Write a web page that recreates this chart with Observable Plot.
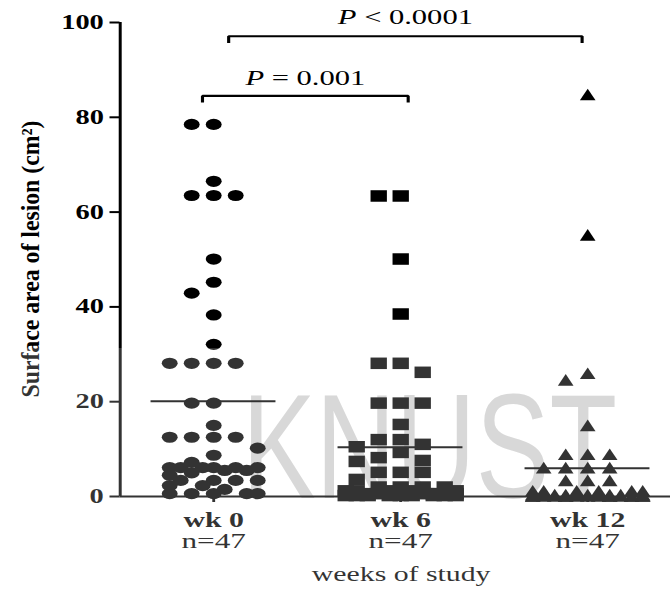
<!DOCTYPE html>
<html>
<head>
<meta charset="utf-8">
<script src="https://cdn.jsdelivr.net/npm/d3@7"></script>
<script src="https://cdn.jsdelivr.net/npm/@observablehq/plot@0.6"></script>
<style>
  html, body { margin: 0; padding: 0; background: #fff; }
  #chart svg { display: block; }
</style>
</head>
<body>
<div id="chart"></div>
<script>
// Surface area of lesion (cm²) for each participant at each visit
const categories = ["wk 0", "wk 6", "wk 12"];
const counts = ["n=47", "n=47", "n=47"];

const wk0 = [78.5, 78.5, 66.5, 63.5, 63.5, 63.5, 50.1, 45.2, 42.9, 38.3, 32.1,
  28.1, 28.1, 28.1, 28.1, 19.7, 19.7, 15.0, 12.5, 12.5, 12.5, 12.5, 10.2, 8.7, 7.2,
  6.1, 6.1, 6.1, 6.1, 6.1, 6.1, 5.5, 5.5, 5.0, 4.5, 3.4, 3.4, 3.4, 3.4, 2.3, 2.3,
  1.5, 0.6, 0.6, 0.6, 0.6, 0.6];
const wk6 = [63.4, 63.4, 50.1, 38.5, 28.1, 28.1, 26.2, 19.7, 19.7, 19.7, 15.2,
  12.0, 12.0, 11.0, 10.5, 9.3, 8.2, 7.6, 7.4, 5.1, 5.1, 5.1, 3.6,
  2.0, 2.0, 2.0, 2.0, 1.2, 1.2, 1.2, 1.2, 1.2, 0.6, 0.6, 0.6, 0.6, 0.6, 0.6,
  0.2, 0.2, 0.2, 0.2, 0.2, 0.2, 0.2, 0.2, 0.2];
const wk12 = [84.8, 55.2, 26.0, 24.6, 15.0, 8.9, 8.9, 8.9, 6.1, 6.1, 6.1, 6.1,
  3.4, 3.4, 3.4, 1.2, 1.2, 1.2, 1.2, 1.2, 1.2,
  0.4, 0.4, 0.4, 0.4, 0.4, 0.4, 0.4, 0.4, 0.4, 0.4,
  0.1, 0.1, 0.1, 0.1, 0.1, 0.1, 0.1, 0.1, 0.1, 0.1, 0.1, 0.1, 0.1, 0.1, 0.1, 0.1];

const yTicks = [0, 20, 40, 60, 80, 100];
const comparisonFrom = ["wk 0", "wk 0"];
const comparisonTo = ["wk 6", "wk 12"];
const comparisonLabel = ["P = 0.001", "P < 0.0001"];

// ---- drawing setup -------------------------------------------------------
// The figure is drawn on a narrower canvas and stretched horizontally.
const S = 1.42;
const W = 670 / S;
const H = 592;
const M = {top: 22, right: 0, bottom: 96, left: 119.5 / S};
const xDomain = [-0.5, 2.5];
const xRange = [119.5 / S, 680.5 / S];

const xs = Plot.scale({x: {type: "linear", domain: xDomain, range: xRange}});
const ys = Plot.scale({y: {type: "linear", domain: [0, 100], range: [H - M.bottom, M.top]}});
const unit = xs.apply(1) - xs.apply(0);

// Column scatter: stack markers on a half-column grid, nearest to the centre
// first, letting crowded values overlap as little as possible.
function swarm(values, maxSlot) {
  const half = 11 / S, bw = 11, bh = 11;
  const order = [0];
  for (let k = 1; k <= maxSlot; ++k) order.push(-k, k);
  const placed = [];
  for (const v of values.slice().sort((a, b) => b - a)) {
    const py = ys.apply(v);
    let best = 0, bestCost = Infinity;
    for (const k of order) {
      const px = k * half;
      let cost = 0;
      for (const p of placed) {
        const ox = bw - Math.abs(p.px - px), oy = bh - Math.abs(p.py - py);
        if (ox > 0 && oy > 0) cost += ox * oy;
      }
      if (cost < bestCost - 1e-9) { best = k; bestCost = cost; if (cost === 0) break; }
    }
    placed.push({value: v, px: best * half, py});
  }
  return placed;
}

const groups = [wk0, wk6, wk12];
const maxSlots = [4, 5, 5];
const points = groups.map((vals, i) =>
  swarm(vals, maxSlots[i]).map(p => ({cat: categories[i], value: p.value, x: i + p.px / unit})));
const means = groups.map((vals, i) => ({i, mean: d3.mean(vals)}));

const triangle = {
  draw(ctx, size) {
    const r = Math.sqrt(size / Math.PI);
    ctx.moveTo(0, -r);
    ctx.lineTo(0.95 * r, r);
    ctx.lineTo(-0.95 * r, r);
    ctx.closePath();
  }
};

// brackets above the groups
const levels = [84.5, 97.1];
const insets = [[-0.06, 0.04], [0.08, -0.03]];
const brackets = comparisonLabel.map((label, j) => {
  const a = categories.indexOf(comparisonFrom[j]) + insets[j][0];
  const b = categories.indexOf(comparisonTo[j]) + insets[j][1];
  const yv = levels[j];
  return {label, a, b, yv};
});
const bracketPts = brackets.flatMap(d => [
  {label: d.label, x: d.a, y: d.yv - 1.4},
  {label: d.label, x: d.a, y: d.yv},
  {label: d.label, x: d.b, y: d.yv},
  {label: d.label, x: d.b, y: d.yv - 1.4}
]);

const serif = "'Liberation Serif', 'Times New Roman', Times, serif";

const chart = Plot.plot({
  width: W,
  height: H,
  marginTop: M.top,
  marginRight: M.right,
  marginBottom: M.bottom,
  marginLeft: M.left,
  x: {domain: xDomain, range: xRange},
  y: {domain: [0, 100]},
  style: {fontFamily: serif, fontSize: "20px", color: "black", background: "white"},
  marks: [
    Plot.text(["KNUST"], {
      frameAnchor: "bottom", lineAnchor: "bottom", dx: 24, dy: 1,
      fontSize: 148, fill: "#cfcfcf", fontFamily: "'Liberation Sans', Arial, sans-serif",
      className: "watermark"
    }),
    Plot.ruleY(means, {x1: d => d.i - 0.334, x2: d => d.i + 0.334, y: "mean", strokeWidth: 2}),
    Plot.dot(points[0], {x: "x", y: "value", symbol: "circle", r: 5.6, fill: "black", stroke: null}),
    Plot.dot(points[1], {x: "x", y: "value", symbol: "square", r: 6.5, fill: "black", stroke: null}),
    Plot.dot(points[2], {x: "x", y: "value", symbol: triangle, r: 5.8, fill: "black", stroke: null}),
    Plot.ruleX([-0.5], {y1: 0, y2: 100, strokeWidth: 2.1}),
    Plot.ruleY([0], {strokeWidth: 2}),
    Plot.axisY({
      ticks: yTicks, tickSize: 10 / S, tickPadding: 4.5, strokeWidth: 2,
      fontSize: 20, fontWeight: "bold", label: null
    }),
    Plot.axisX({
      ticks: [0, 1, 2], tickFormat: i => categories[i], tickSize: 6, tickPadding: 10,
      strokeWidth: 2, fontSize: 21, fontWeight: "bold", label: null
    }),
    Plot.text(counts, {x: (d, i) => i, frameAnchor: "bottom", dy: 51, fontSize: 22}),
    Plot.text(["weeks of study"], {frameAnchor: "bottom", dx: 4, dy: 84, fontSize: 21}),
    Plot.text(["Surface area of lesion (cm²)"], {
      frameAnchor: "left", fontSize: 17, fontWeight: "bold", className: "ytitle"
    }),
    Plot.line(bracketPts, {x: "x", y: "y", z: "label", stroke: "black", strokeWidth: 2.2,
      strokeLinejoin: "miter", strokeLinecap: "butt"}),
    Plot.text(brackets, {x: d => (d.a + d.b) / 2, y: d => d.yv + (d.yv > 90 ? 4.1 : 3.8),
      text: "label", fontSize: 21.5, className: "pval"})
  ]
});

// stretch the canvas horizontally to the final page size
chart.setAttribute("width", 670);
chart.setAttribute("height", H);
chart.setAttribute("preserveAspectRatio", "none");
chart.style.width = "670px";
chart.style.height = H + "px";
chart.style.maxWidth = "none";

const sel = d3.select(chart);
// vertical y-axis title, centred on the plot frame
sel.selectAll(".ytitle").attr("transform", null);
sel.selectAll(".ytitle text")
  .attr("x", null).attr("y", null).attr("dx", null).attr("dy", "0.32em")
  .attr("text-anchor", "middle")
  .attr("transform", `translate(${31 / S},${(M.top + H - M.bottom) / 2}) rotate(-90)`)
  .attr("textLength", 277).attr("lengthAdjust", "spacingAndGlyphs");
sel.selectAll(".watermark text").attr("textLength", 375 / S).attr("lengthAdjust", "spacingAndGlyphs");
sel.selectAll(".pval text").each(function() {
  const t = this.textContent;
  const s = d3.select(this);
  s.text(null);
  s.append("tspan").attr("font-style", "italic").text(t.slice(0, 1));
  s.append("tspan").text(t.slice(1));
});
// light wash over the lower part of the figure
sel.append("rect").attr("x", 0).attr("y", 348).attr("width", W).attr("height", H - 348)
  .attr("fill", "white").attr("fill-opacity", 0.2);

document.getElementById("chart").appendChild(chart);
</script>
</body>
</html>
